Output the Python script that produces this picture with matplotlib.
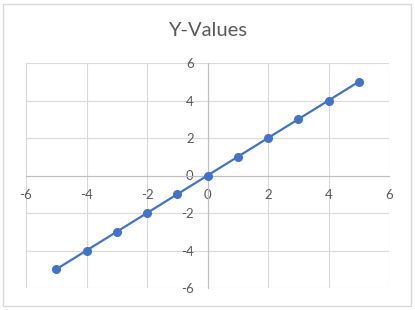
import matplotlib.pyplot as plt
from matplotlib.patches import Rectangle

x_vals = [-5, -4, -3, -2, -1, 0, 1, 2, 3, 4, 5]
y_vals = [-5, -4, -3, -2, -1, 0, 1, 2, 3, 4, 5]
ticks = [-6, -4, -2, 0, 2, 4, 6]

plt.rcParams['font.family'] = ['Lato', 'DejaVu Sans']
plt.rcParams['axes.unicode_minus'] = False

fig = plt.figure(figsize=(4.15, 3.1), dpi=100)
fig.patches.append(Rectangle((3 / 415, 4 / 310), 408 / 415, 302 / 310,
                             transform=fig.transFigure, fill=False,
                             edgecolor='#D9D9D9', linewidth=1))

ax = fig.add_axes([26 / 415, 22 / 310, 363 / 415, 225 / 310])
ax.plot(x_vals, y_vals, color='#4472C4', linewidth=1.6, marker='o',
        markersize=5.5, zorder=3)

ax.set_xlim(-6, 6)
ax.set_ylim(-6, 6)
ax.set_xticks(ticks)
ax.set_yticks(ticks)
ax.grid(True, color='#D9D9D9', linewidth=0.8)
ax.set_axisbelow(True)

# axes cross at the origin, like an Excel scatter chart
for s in ['top', 'right']:
    ax.spines[s].set_visible(False)
ax.spines['left'].set_position(('data', 0))
ax.spines['bottom'].set_position(('data', 0))
ax.spines['left'].set_color('#BFBFBF')
ax.spines['bottom'].set_color('#BFBFBF')
ax.tick_params(length=0, labelcolor='#595959', labelsize=9.5)
ax.tick_params(axis='x', pad=10)
ax.tick_params(axis='y', pad=10)

fig.text(0.5, 1 - 31 / 310, 'Y-Values', ha='center', va='center',
         fontsize=14.5, color='#595959')

fig.savefig('out.png', dpi=100)
